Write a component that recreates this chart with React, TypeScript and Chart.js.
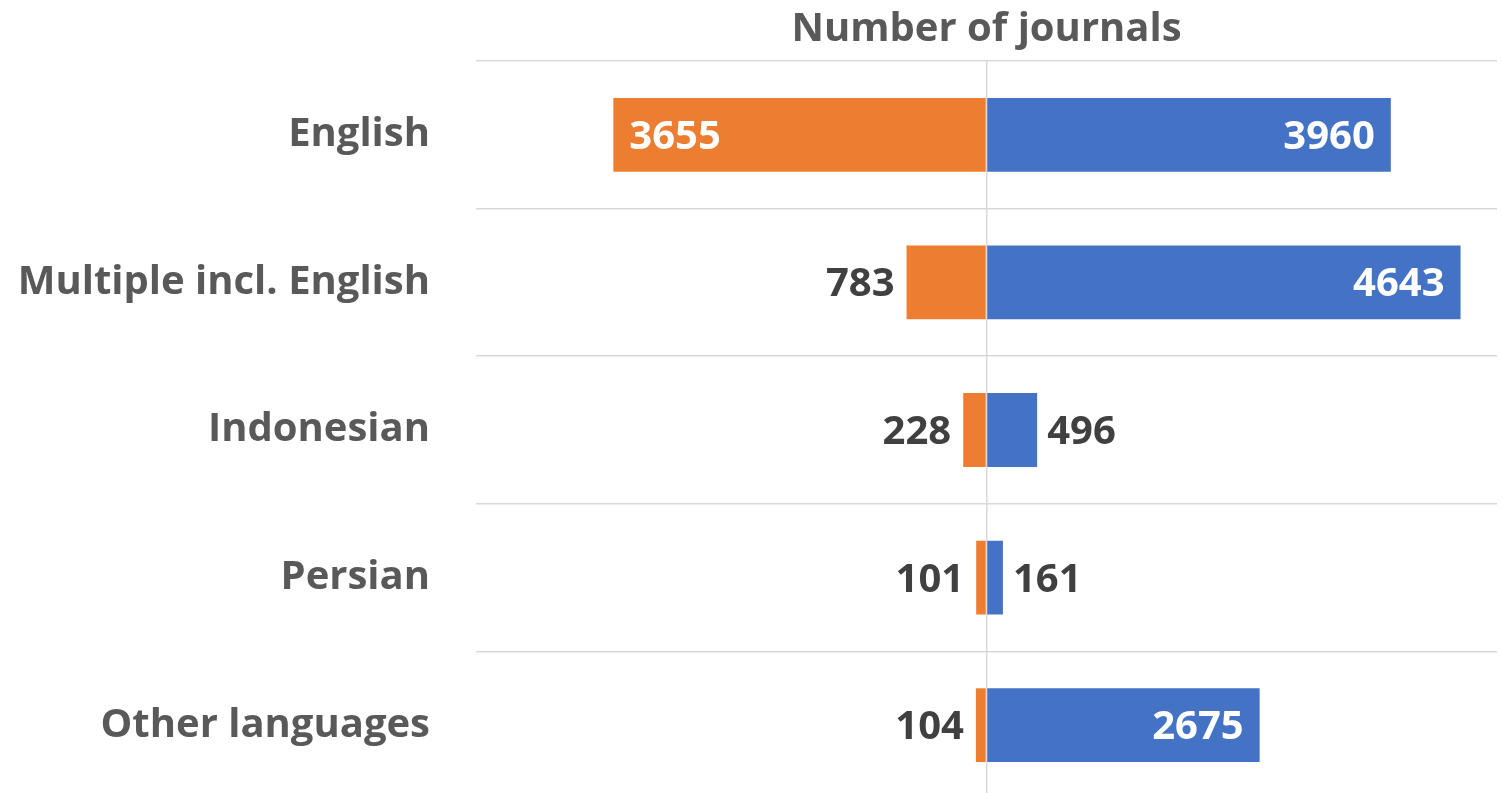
import React, { useEffect, useRef } from "react";
import { Chart, registerables } from "chart.js";

Chart.register(...registerables);

const categories = ["English", "Multiple incl. English", "Indonesian", "Persian", "Other languages"];
const orangeValues = [3655, 783, 228, 101, 104];
const blueValues = [3960, 4643, 496, 161, 2675];
const axisTitle = "Number of journals";

const FONT = "'Open Sans', sans-serif";
const ORANGE = "#ED7D31";
const BLUE = "#4472C4";
const GRID = "#D9D9D9";

const labelPlugin = {
  id: "barLabels",
  afterDatasetsDraw(chart: any) {
    const ctx = chart.ctx;
    ctx.save();
    ctx.font = `bold 40px ${FONT}`;
    ctx.textBaseline = "alphabetic";
    chart.data.datasets.forEach((ds: any, di: number) => {
      const meta = chart.getDatasetMeta(di);
      meta.data.forEach((el: any, i: number) => {
        const raw = Math.abs(ds.data[i]);
        const text = String(raw);
        const tw = ctx.measureText(text).width;
        const barW = Math.abs(el.x - el.base);
        const neg = ds.data[i] < 0;
        const inside = tw + 32 < barW;
        const y = el.y + 14;
        if (inside) {
          ctx.fillStyle = "#FFFFFF";
          if (neg) {
            ctx.textAlign = "left";
            ctx.fillText(text, el.x + 16, y);
          } else {
            ctx.textAlign = "right";
            ctx.fillText(text, el.x - 16, y);
          }
        } else {
          ctx.fillStyle = "#404040";
          if (neg) {
            ctx.textAlign = "right";
            ctx.fillText(text, el.x - 12, y);
          } else {
            ctx.textAlign = "left";
            ctx.fillText(text, el.x + 10, y);
          }
        }
      });
    });
    ctx.restore();
  },
};

export default function App() {
  const ref = useRef<HTMLCanvasElement | null>(null);
  useEffect(() => {
    if (!ref.current) return;
    const chart = new Chart(ref.current, {
      type: "bar",
      data: {
        labels: categories,
        datasets: [
          {
            label: "Orange",
            data: orangeValues.map((v) => -v),
            backgroundColor: ORANGE,
            barPercentage: 0.5,
            categoryPercentage: 1,
          },
          {
            label: "Blue",
            data: blueValues,
            backgroundColor: BLUE,
            barPercentage: 0.5,
            categoryPercentage: 1,
          },
        ],
      },
      options: {
        indexAxis: "y",
        animation: false,
        responsive: false,
        maintainAspectRatio: false,
        layout: { padding: { left: 0, right: 6, top: 0, bottom: 1 } },
        plugins: {
          legend: { display: false },
          tooltip: { enabled: false },
        },
        scales: {
          x: {
            type: "linear",
            position: "top",
            stacked: true,
            min: -5000,
            max: 5000,
            ticks: { display: false, stepSize: 5000 },
            grid: {
              drawTicks: false,
              lineWidth: 1.5,
              color: (c: any) => (c.tick && c.tick.value === 0 ? GRID : "rgba(0,0,0,0)"),
            },
            border: { display: false },
            title: {
              display: true,
              text: axisTitle,
              color: "#595959",
              font: { family: FONT, size: 40, weight: "bold", lineHeight: 1.2 },
              padding: { top: 6, bottom: 0 },
            },
            afterFit: (s: any) => {
              s.height = 61;
              s.paddingLeft = 0;
              s.paddingRight = 0;
            },
          },
          y: {
            type: "category",
            stacked: true,
            offset: true,
            grid: {
              offset: true,
              drawTicks: false,
              lineWidth: 1.5,
              color: GRID,
            },
            border: { display: false },
            ticks: {
              padding: 46,
              color: "#595959",
              font: { family: FONT, size: 40, weight: "bold" },
            },
            afterFit: (s: any) => {
              s.width = 476;
              s.paddingTop = 0;
              s.paddingBottom = 0;
            },
          },
        },
      },
      plugins: [labelPlugin],
    });
    return () => chart.destroy();
  }, []);
  return (
    <div style={{ position: "fixed", left: 0, top: 0, width: 1503, height: 800, background: "#fff" }}>
      <canvas ref={ref} width={1503} height={800} style={{ display: "block" }} />
    </div>
  );
}
